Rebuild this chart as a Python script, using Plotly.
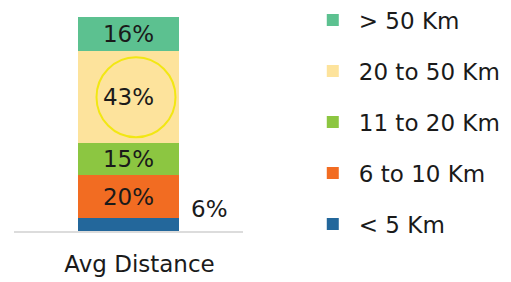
import plotly.graph_objects as go

categories = ["Avg Distance"]
series_names = ["< 5 Km", "6 to 10 Km", "11 to 20 Km", "20 to 50 Km", "> 50 Km"]
series_values = [6, 20, 15, 43, 16]
series_colors = ["#23679b", "#f26c22", "#8cc641", "#fde39c", "#5cc190"]

FONT = "DejaVu Sans, sans-serif"
FS = 23
TXT = "#1a1a1a"
W, H = 503, 274  # page body has an 8px margin

fig = go.Figure()
n = len(series_names)
legend_layout = {}
for i, (name, val, col) in enumerate(zip(series_names, series_values, series_colors)):
    inside = val >= 10
    lg = "legend" if i == 0 else f"legend{i + 1}"
    fig.add_trace(go.Bar(
        x=categories, y=[val], name=name,
        marker=dict(color=col, line=dict(width=0)),
        text=[f"{val}%"] if inside else None,
        textposition="inside", insidetextanchor="middle",
        textfont=dict(family=FONT, size=FS, color=TXT),
        width=0.437, legend=lg, hoverinfo="skip",
    ))
    # one legend per series, stacked top-down in reverse order
    row = n - 1 - i
    legend_layout[lg] = dict(
        xref="container", yref="container",
        x=0.594, y=1 - (12 + 51 * row) / H, xanchor="left", yanchor="middle",
        font=dict(family=FONT, size=FS, color=TXT),
        itemwidth=42, bgcolor="rgba(0,0,0,0)",
    )

# outside label for the thin bottom segment
fig.add_annotation(x=categories[0], y=series_values[0], text=f"{series_values[0]}%",
                   showarrow=False, xshift=81, yshift=9,
                   font=dict(family=FONT, size=FS, color=TXT))

# highlight circle around the 43% segment
idx = 3
mid = sum(series_values[:idx]) + series_values[idx] / 2
fig.add_shape(type="circle", xref="x", yref="y", xsizemode="pixel", ysizemode="pixel",
              xanchor=0, yanchor=mid, x0=-32, x1=47, y0=-40, y1=40,
              line=dict(color="#f2e713", width=2), fillcolor="rgba(0,0,0,0)")

fig.update_layout(
    width=W, height=H, barmode="stack",
    margin=dict(l=6, r=268, t=9, b=51, autoexpand=False),
    paper_bgcolor="white", plot_bgcolor="white",
    font=dict(family=FONT, size=FS, color=TXT),
    showlegend=True,
    xaxis=dict(range=[-0.5, 0.5], showline=True, linecolor="#dcdcdc", linewidth=1.5,
               showgrid=False, zeroline=False, ticks="outside", ticklen=12,
               ticklabelshift=11,
               tickcolor="rgba(0,0,0,0)", tickfont=dict(family=FONT, size=FS, color=TXT)),
    yaxis=dict(range=[0, 100], visible=False, showgrid=False, zeroline=False),
    **legend_layout,
)

fig.write_html("out.html")
